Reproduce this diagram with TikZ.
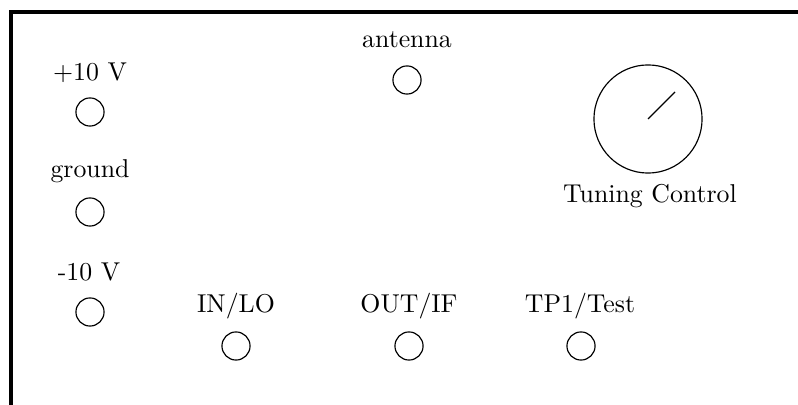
\documentclass[tikz,border=0pt]{standalone}
\usetikzlibrary{calc}
\begin{document}
\begin{tikzpicture}[x=0.3876pt,y=-0.3876pt,
  jack/.style={draw,circle,minimum size=10.9pt,inner sep=0pt,line width=0.45pt},
  dialknob/.style={draw,circle,minimum size=41.9pt,inner sep=0pt,line width=0.45pt},
  tag/.style={anchor=base,inner sep=0pt},
  panel/.style={line width=1.2pt}]
  \useasboundingbox (0,0) rectangle (798,405);

  % front panel edge
  \coordinate (pr) at (798,12);
  \coordinate (pc) at (11,12);
  \coordinate (pb) at (11,405);
  \draw[panel] (pr) -- (pc) -- (pb);

  % supply jacks
  \node[jack] (vpos) at (90,112) {};
  \node[tag] (vposL) at (90,81) {+10 V};
  \node[jack] (gnd) at (90,212) {};
  \node[tag] (gndL) at (90,178) {ground};
  \node[jack] (vneg) at (90,312) {};
  \node[tag] (vnegL) at (89,281) {-10 V};

  % antenna
  \node[jack] (ant) at (407,80) {};
  \node[tag] (antL) at (407,48) {antenna};

  % signal jacks
  \node[jack] (inlo) at (236,346) {};
  \node[tag] (inloL) at (236,313) {IN/LO};
  \node[jack] (outif) at (409,346) {};
  \node[tag] (outifL) at (409,313) {OUT/IF};
  \node[jack] (tp) at (581,346) {};
  \node[tag] (tpL) at (580,313) {TP1/Test};

  % tuning knob
  \node[dialknob] (dial) at (648,119) {};
  \draw[line width=0.45pt] (dial.center) -- ($(dial.center)!0.7!(dial.45)$);
  \node[tag] (dialL) at (650,203) {Tuning Control};
\end{tikzpicture}
\end{document}
